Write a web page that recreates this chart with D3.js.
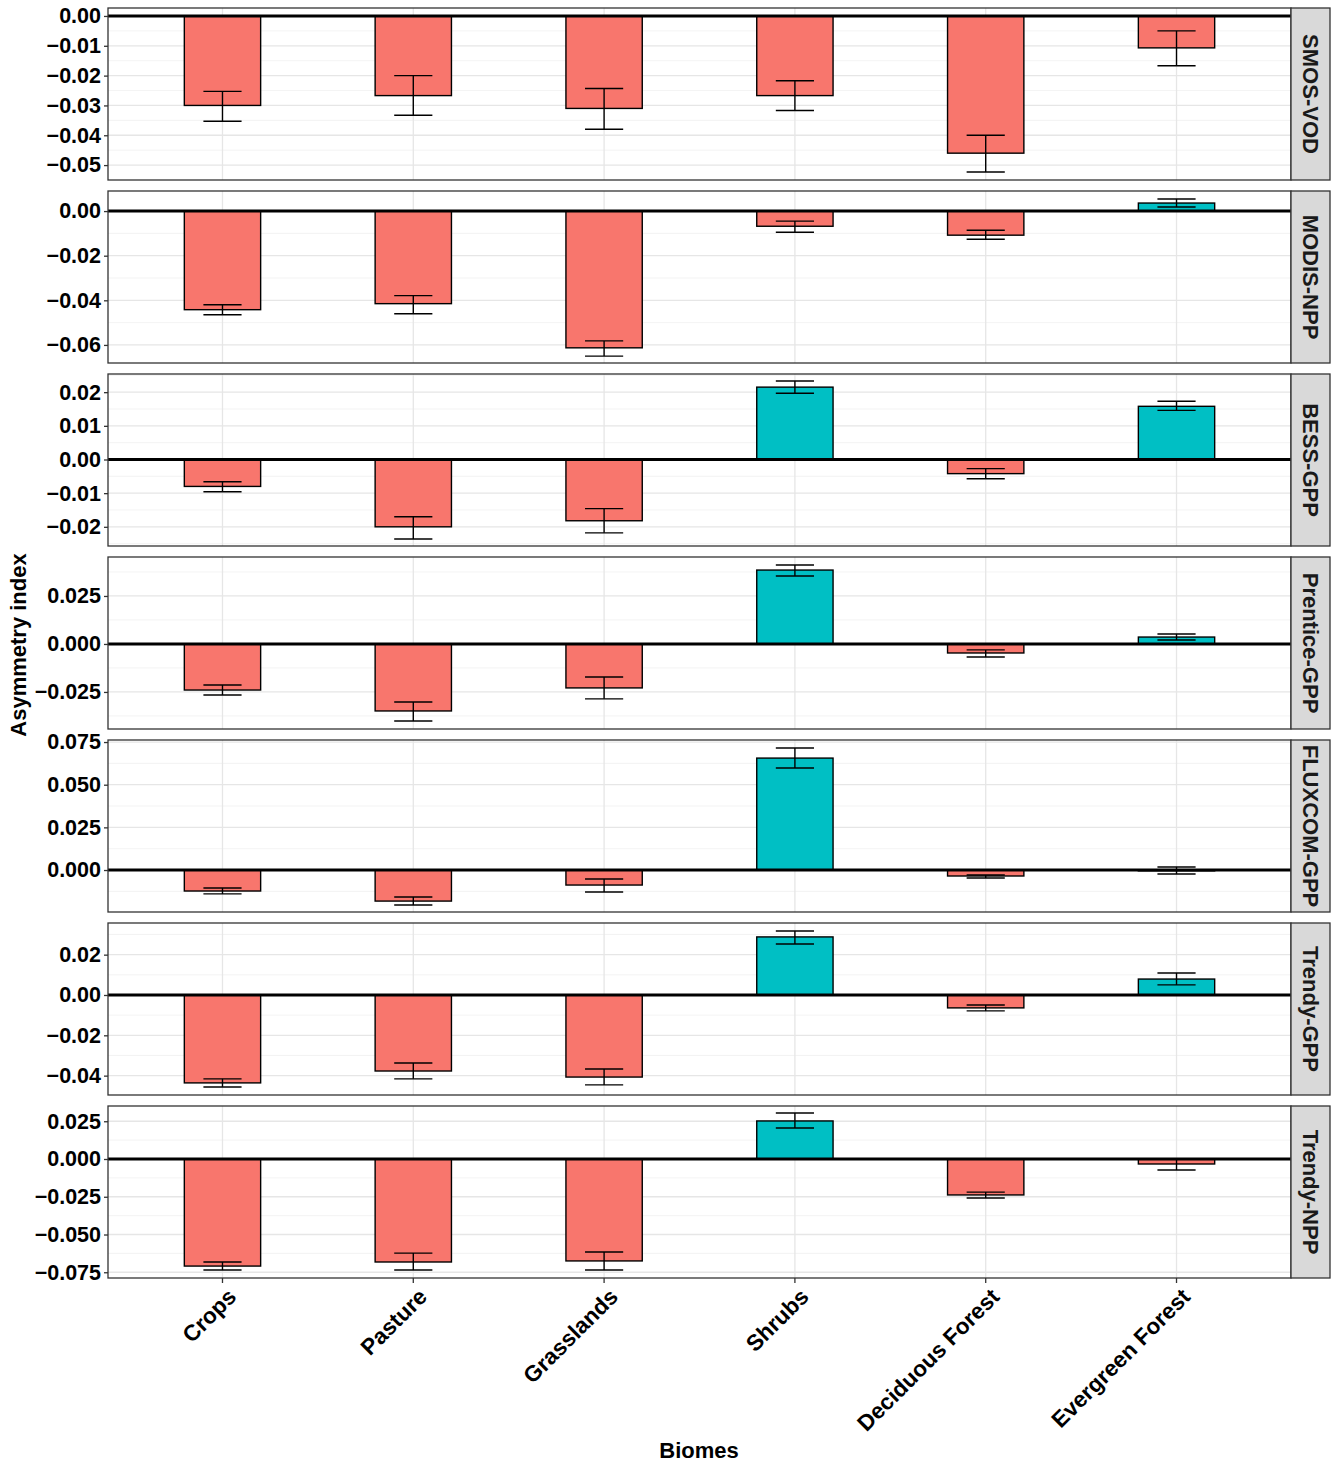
<!DOCTYPE html>
<html>
<head>
<meta charset="utf-8">
<script src="https://cdn.jsdelivr.net/npm/d3@7"></script>
<style>
body { margin: 0; background: #fff; }
text { font-family: "Liberation Sans", Arial, sans-serif; font-weight: bold; }
</style>
</head>
<body>
<div id="chart-area"></div>
<script>
var biomes = ["Crops", "Pasture", "Grasslands", "Shrubs", "Deciduous Forest", "Evergreen Forest"];
var products = ["SMOS-VOD", "MODIS-NPP", "BESS-GPP", "Prentice-GPP", "FLUXCOM-GPP", "Trendy-GPP", "Trendy-NPP"];

var means = [
    [-0.030, -0.0267, -0.031, -0.0267, -0.046, -0.0107],
    [-0.0442, -0.0415, -0.0613, -0.0068, -0.0108, 0.0036],
    [-0.008, -0.020, -0.0182, 0.0215, -0.0042, 0.0158],
    [-0.024, -0.0349, -0.0229, 0.0385, -0.0047, 0.0036],
    [-0.0123, -0.0182, -0.0088, 0.0656, -0.0035, -0.0005],
    [-0.0436, -0.0377, -0.0407, 0.0288, -0.0064, 0.0079],
    [-0.0709, -0.0682, -0.0675, 0.0252, -0.0238, -0.0033]
];
var errLow = [
    [-0.0353, -0.0333, -0.038, -0.0317, -0.0523, -0.0167],
    [-0.0465, -0.046, -0.065, -0.0095, -0.0126, 0.0018],
    [-0.0096, -0.0236, -0.0218, 0.0197, -0.0057, 0.0146],
    [-0.0266, -0.0401, -0.0286, 0.0354, -0.0068, 0.0021],
    [-0.014, -0.0205, -0.0129, 0.0598, -0.0047, -0.0023],
    [-0.0456, -0.0416, -0.0446, 0.0253, -0.0079, 0.005],
    [-0.0735, -0.0735, -0.0735, 0.0205, -0.0258, -0.0073]
];
var errHigh = [
    [-0.0253, -0.020, -0.0243, -0.0217, -0.040, -0.005],
    [-0.042, -0.0379, -0.0582, -0.0045, -0.0086, 0.0054],
    [-0.0066, -0.017, -0.0146, 0.0233, -0.0027, 0.0173],
    [-0.0214, -0.0302, -0.0172, 0.0411, -0.0031, 0.0052],
    [-0.0105, -0.0158, -0.0053, 0.0715, -0.0029, 0.0018],
    [-0.0416, -0.0337, -0.0367, 0.0317, -0.005, 0.0109],
    [-0.0682, -0.0623, -0.0616, 0.0305, -0.0219, 0]
];
var yDomains = [
    [-0.055, 0.00267], [-0.0681, 0.009], [-0.0257, 0.0254], [-0.0443, 0.0453],
    [-0.0246, 0.0762], [-0.0496, 0.0357], [-0.0788, 0.0351]
];
var yTicks = [
    [0, -0.01, -0.02, -0.03, -0.04, -0.05],
    [0, -0.02, -0.04, -0.06],
    [0.02, 0.01, 0, -0.01, -0.02],
    [0.025, 0, -0.025],
    [0.075, 0.05, 0.025, 0],
    [0.02, 0, -0.02, -0.04],
    [0.025, 0, -0.025, -0.05, -0.075]
];
var tickDecimals = [2, 2, 2, 3, 3, 2, 3];

var left = 108, right = 1291, stripW = 39;
var panelTop = 8, panelH = 172, gap = 11;

var svg = d3.select("#chart-area").append("svg")
    .attr("width", 1335).attr("height", 1465);

// ggplot style discrete axis: expansion 0.6 units each side
var x = d3.scalePoint().domain(biomes)
    .range([left, right]).padding(0.6);
function cx(i) { return x(biomes[i]); }
var unit = x.step();

products.forEach(function(p, k) {
    var top = panelTop + k * (panelH + gap);
    var y = d3.scaleLinear().domain(yDomains[k]).range([top + panelH, top]);
    var g = svg.append("g");
    var fmt = function(v) {
        var s = Math.abs(v).toFixed(tickDecimals[k]);
        return v < -1e-9 ? "\u2212" + s : s;
    };

    // minor grid
    var t = yTicks[k].slice().sort(d3.ascending);
    var step = t[1] - t[0];
    var minor = [];
    for (var m = t[0] - step / 2; m <= yDomains[k][1]; m += step) {
        if (m >= yDomains[k][0]) minor.push(m);
    }
    g.selectAll(".minor").data(minor).enter().append("line")
        .attr("x1", left).attr("x2", right)
        .attr("y1", function(d) { return y(d); }).attr("y2", function(d) { return y(d); })
        .attr("stroke", "#f0f0f0").attr("stroke-width", 0.8);
    g.selectAll(".major").data(yTicks[k]).enter().append("line")
        .attr("x1", left).attr("x2", right)
        .attr("y1", function(d) { return y(d); }).attr("y2", function(d) { return y(d); })
        .attr("stroke", "#e6e6e6").attr("stroke-width", 1.3);
    g.selectAll(".vgrid").data(biomes).enter().append("line")
        .attr("x1", function(d, i) { return cx(i); }).attr("x2", function(d, i) { return cx(i); })
        .attr("y1", top).attr("y2", top + panelH)
        .attr("stroke", "#e6e6e6").attr("stroke-width", 1.3);

    // bars
    var bw = unit * 0.4;
    g.selectAll(".bar").data(means[k]).enter().append("rect")
        .attr("x", function(d, i) { return cx(i) - bw / 2; })
        .attr("width", bw)
        .attr("y", function(d) { return y(Math.max(0, d)); })
        .attr("height", function(d) { return Math.abs(y(d) - y(0)); })
        .attr("fill", function(d) { return d < 0 ? "#F8766D" : "#00BFC4"; })
        .attr("stroke", "#000").attr("stroke-width", 1.4);

    // error bars
    var ew = unit * 0.2;
    means[k].forEach(function(d, i) {
        var lo = y(errLow[k][i]), hi = y(errHigh[k][i]), c = cx(i);
        g.append("line").attr("x1", c).attr("x2", c).attr("y1", lo).attr("y2", hi)
            .attr("stroke", "#000").attr("stroke-width", 1.4);
        [lo, hi].forEach(function(yy) {
            g.append("line").attr("x1", c - ew / 2).attr("x2", c + ew / 2)
                .attr("y1", yy).attr("y2", yy).attr("stroke", "#000").attr("stroke-width", 1.4);
        });
    });

    // zero line
    g.append("line").attr("x1", left).attr("x2", right)
        .attr("y1", y(0)).attr("y2", y(0))
        .attr("stroke", "#000").attr("stroke-width", 3);

    // border
    g.append("rect").attr("x", left).attr("y", top).attr("width", right - left).attr("height", panelH)
        .attr("fill", "none").attr("stroke", "#333").attr("stroke-width", 1.3);

    // y axis
    var ax = g.append("g").attr("transform", "translate(" + left + ",0)")
        .call(d3.axisLeft(y).tickValues(yTicks[k]).tickFormat(fmt).tickSize(4).tickPadding(3));
    ax.select(".domain").remove();
    ax.selectAll(".tick line").attr("stroke", "#333").attr("stroke-width", 1.3);
    ax.selectAll("text").attr("font-size", 21.5).attr("fill", "#000")
        .style("font-family", "Liberation Sans, Arial, sans-serif").style("font-weight", "bold");

    // strip
    g.append("rect").attr("x", right).attr("y", top).attr("width", stripW).attr("height", panelH)
        .attr("fill", "#d9d9d9").attr("stroke", "#333").attr("stroke-width", 1.3);
    g.append("text")
        .attr("transform", "translate(" + (right + stripW / 2) + "," + (top + panelH / 2) + ") rotate(90)")
        .attr("text-anchor", "middle").attr("dy", "0.35em")
        .attr("font-size", 22).attr("fill", "#1a1a1a").text(p);
});

// x axis at bottom
var bottom = panelTop + 6 * (panelH + gap) + panelH;
biomes.forEach(function(b, i) {
    var c = cx(i);
    svg.append("line").attr("x1", c).attr("x2", c).attr("y1", bottom).attr("y2", bottom + 5)
        .attr("stroke", "#333").attr("stroke-width", 1.3);
    svg.append("text")
        .attr("transform", "translate(" + (c + 4) + "," + (bottom + 9) + ") rotate(-45)")
        .attr("text-anchor", "end").attr("dy", "0.7em")
        .attr("font-size", 22.5).attr("fill", "#000").text(b);
});

svg.append("text").attr("x", 699).attr("y", 1458).attr("text-anchor", "middle")
    .attr("font-size", 22).text("Biomes");
svg.append("text")
    .attr("transform", "translate(26,645) rotate(-90)")
    .attr("text-anchor", "middle").attr("font-size", 22).text("Asymmetry index");
</script>
</body>
</html>
